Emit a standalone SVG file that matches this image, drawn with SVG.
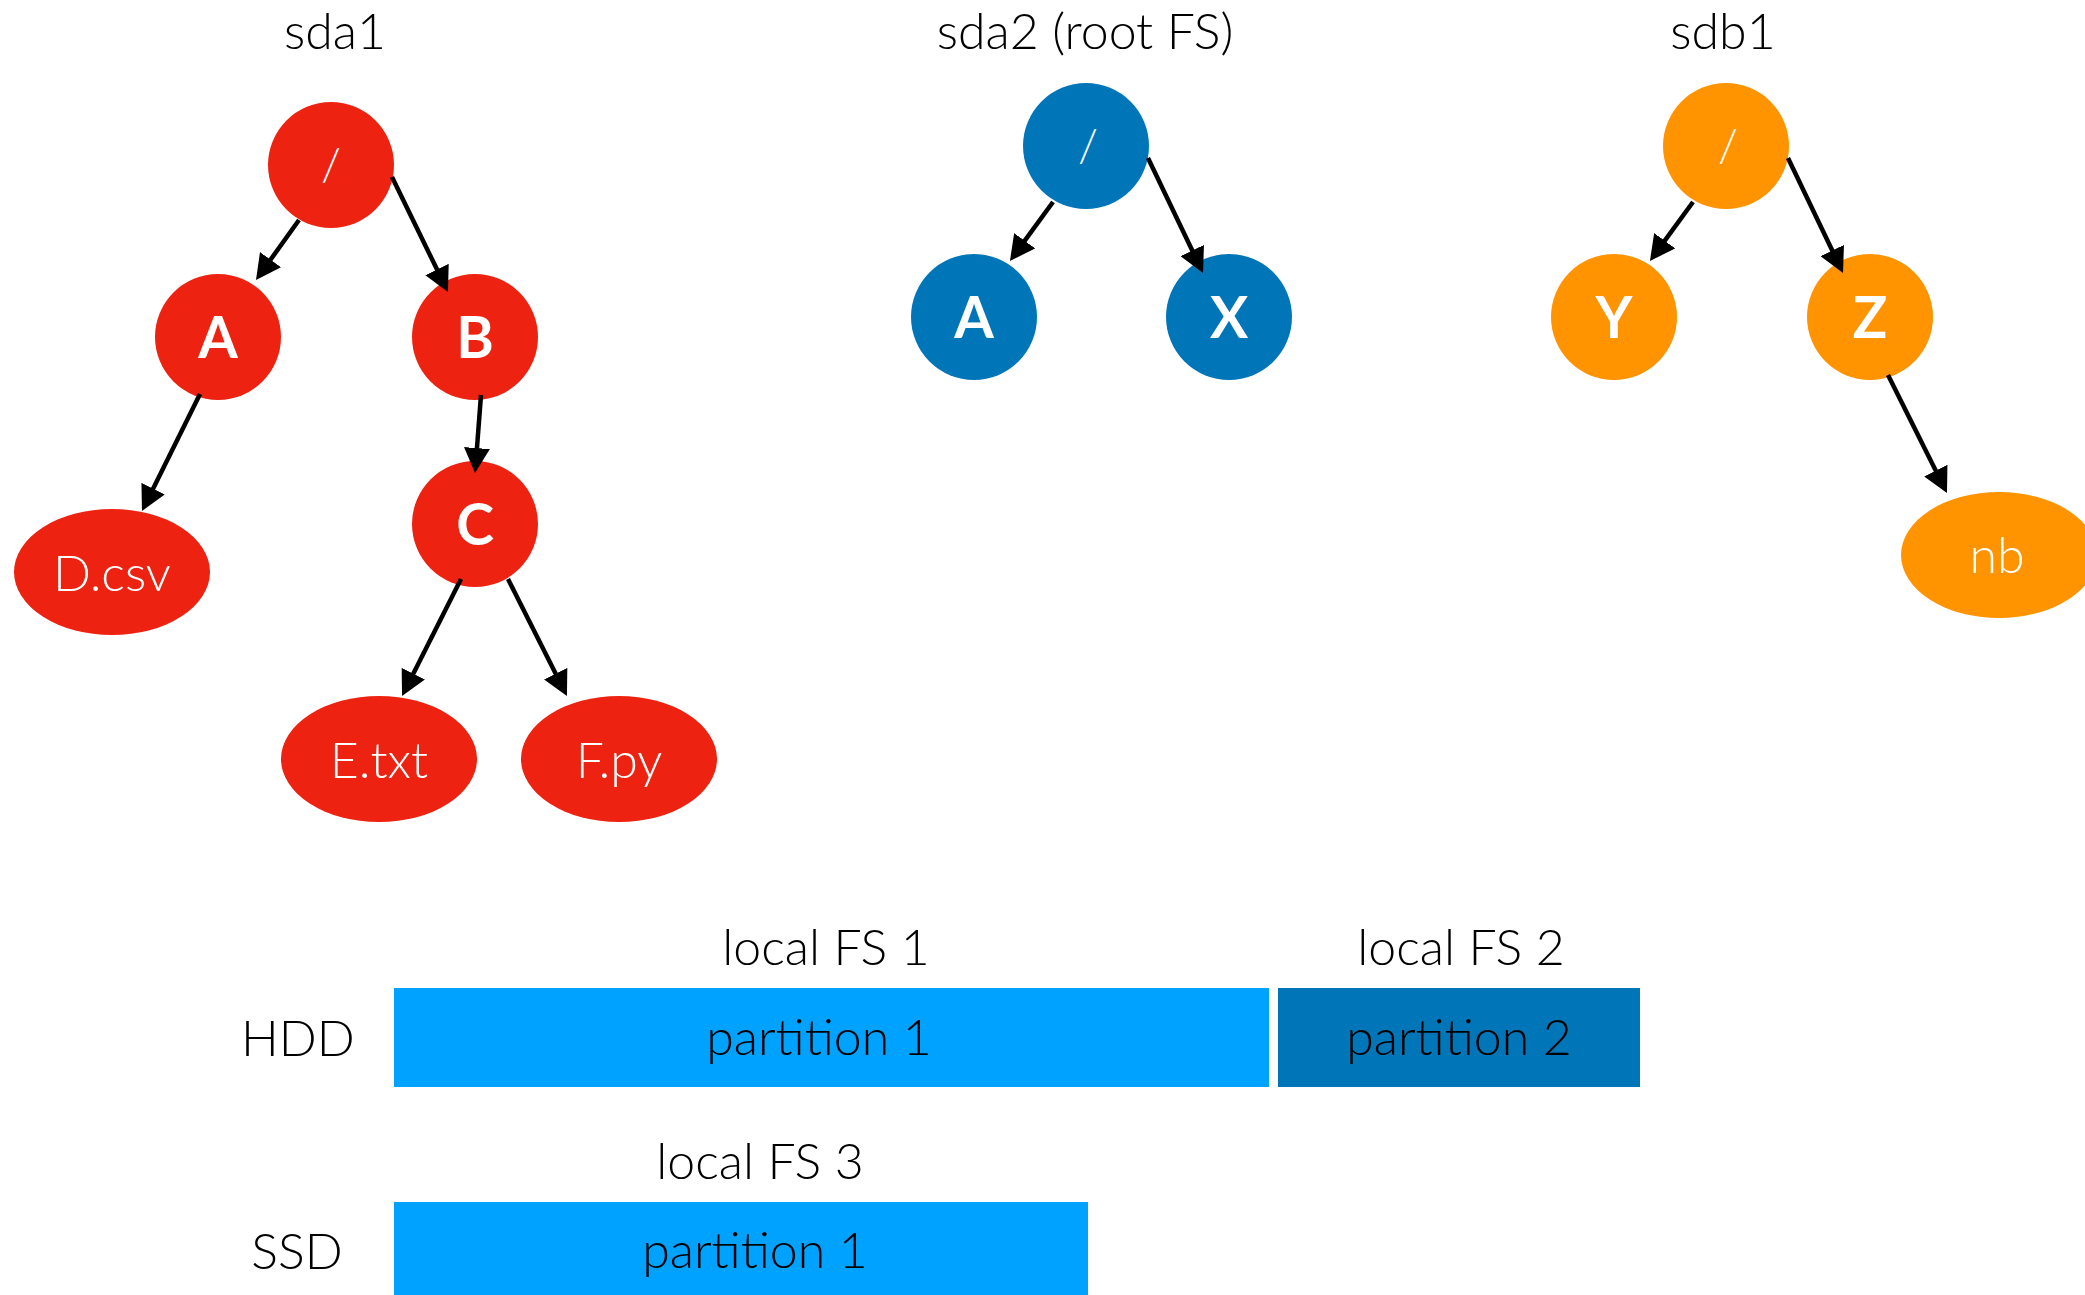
<svg xmlns="http://www.w3.org/2000/svg" width="2085" height="1295" viewBox="0 0 2085 1295">
  <style>
    .lbl { font-family: Lato, "Open Sans", "Liberation Sans", sans-serif; font-weight: 300; font-size: 50px; fill: #000; text-anchor: middle; }
    .leaf { font-family: Lato, "Open Sans", "Liberation Sans", sans-serif; font-weight: 300; font-size: 50px; fill: #fff; text-anchor: middle; }
    .dir { font-family: Lato, "Open Sans", "Liberation Sans", sans-serif; font-weight: 700; font-size: 57px; fill: #fff; text-anchor: middle; }
    .slash { font-family: Lato, "Open Sans", "Liberation Sans", sans-serif; font-weight: 300; font-size: 46px; fill: #fff; text-anchor: middle; }
    .red { fill: #EE2211; }
    .blue { fill: #0075B8; }
    .orange { fill: #FF9400; }
    .part { fill: #00A2FF; }
    .part2 { fill: #0075B8; }
    .edge { stroke: #000; stroke-width: 4.5; fill: none; marker-end: url(#arrow); }
  </style>
  <defs>
    <marker id="arrow" markerUnits="userSpaceOnUse" markerWidth="26" markerHeight="26" refX="2" refY="13" orient="auto">
      <path d="M0,0 L25,13 L0,26 Z" fill="#000"/>
    </marker>
  </defs>

  <rect width="2085" height="1295" fill="#fff"/>

  <!-- partition titles -->
  <text class="lbl" x="335" y="49">sda1</text>
  <text class="lbl" x="1085" y="49">sda2 (root FS)</text>
  <text class="lbl" x="1723" y="49">sdb1</text>

  <!-- sda1 tree -->
  <g id="sda1-root"><circle class="red" cx="331" cy="165" r="63"/><text class="slash" x="331" y="181">/</text></g>
  <g id="sda1-A"><circle class="red" cx="218" cy="337" r="63"/><text class="dir" x="218" y="358">A</text></g>
  <g id="sda1-B"><circle class="red" cx="475" cy="337" r="63"/><text class="dir" x="475" y="358">B</text></g>
  <g id="sda1-C"><circle class="red" cx="475" cy="524" r="63"/><text class="dir" x="475" y="545">C</text></g>
  <g id="sda1-Dcsv"><ellipse class="red" cx="112" cy="572" rx="98" ry="63"/><text class="leaf" x="112" y="591">D.csv</text></g>
  <g id="sda1-Etxt"><ellipse class="red" cx="379" cy="759" rx="98" ry="63"/><text class="leaf" x="379" y="778">E.txt</text></g>
  <g id="sda1-Fpy"><ellipse class="red" cx="619" cy="759" rx="98" ry="63"/><text class="leaf" x="619" y="778">F.py</text></g>

  <!-- sda2 tree -->
  <g id="sda2-root"><circle class="blue" cx="1086" cy="146" r="63"/><text class="slash" x="1088" y="162">/</text></g>
  <g id="sda2-A"><circle class="blue" cx="974" cy="317" r="63"/><text class="dir" x="974" y="338">A</text></g>
  <g id="sda2-X"><circle class="blue" cx="1229" cy="317" r="63"/><text class="dir" x="1229" y="338">X</text></g>

  <!-- sdb1 tree -->
  <g id="sdb1-root"><circle class="orange" cx="1726" cy="146" r="63"/><text class="slash" x="1728" y="162">/</text></g>
  <g id="sdb1-Y"><circle class="orange" cx="1614" cy="317" r="63"/><text class="dir" x="1614" y="338">Y</text></g>
  <g id="sdb1-Z"><circle class="orange" cx="1870" cy="317" r="63"/><text class="dir" x="1870" y="338">Z</text></g>
  <g id="sdb1-nb"><ellipse class="orange" cx="1999" cy="555" rx="98" ry="63"/><text class="leaf" x="1997" y="573">nb</text></g>

  <!-- connectors -->
  <g id="edges">
    <line class="edge" x1="299" y1="220" x2="269.4" y2="261.3"/>
    <line class="edge" x1="392" y1="177" x2="437.9" y2="271.3"/>
    <line class="edge" x1="200" y1="394" x2="152.2" y2="490.4"/>
    <line class="edge" x1="481" y1="395" x2="476.8" y2="450.1"/>
    <line class="edge" x1="461" y1="579" x2="412.4" y2="675.5"/>
    <line class="edge" x1="508" y1="579" x2="556.6" y2="675.5"/>
    <line class="edge" x1="1053" y1="202" x2="1023.5" y2="242.4"/>
    <line class="edge" x1="1148" y1="158" x2="1193.1" y2="252.3"/>
    <line class="edge" x1="1693" y1="202" x2="1663.5" y2="242.4"/>
    <line class="edge" x1="1788" y1="158" x2="1833.1" y2="252.3"/>
    <line class="edge" x1="1888" y1="375" x2="1936.7" y2="472.4"/>
  </g>

  <!-- disks and partitions -->
  <g id="hdd">
    <text class="lbl" x="298" y="1056">HDD</text>
    <text class="lbl" x="826" y="965">local FS 1</text>
    <text class="lbl" x="1461" y="965">local FS 2</text>
    <rect class="part" x="394" y="988" width="875" height="99"/>
    <rect class="part2" x="1278" y="988" width="362" height="99"/>
    <text class="lbl" x="819" y="1055">partition 1</text>
    <text class="lbl" x="1459" y="1055">partition 2</text>
  </g>
  <g id="ssd">
    <text class="lbl" x="297" y="1269">SSD</text>
    <text class="lbl" x="760" y="1179">local FS 3</text>
    <rect class="part" x="394" y="1202" width="694" height="93"/>
    <text class="lbl" x="755" y="1268">partition 1</text>
  </g>
</svg>
